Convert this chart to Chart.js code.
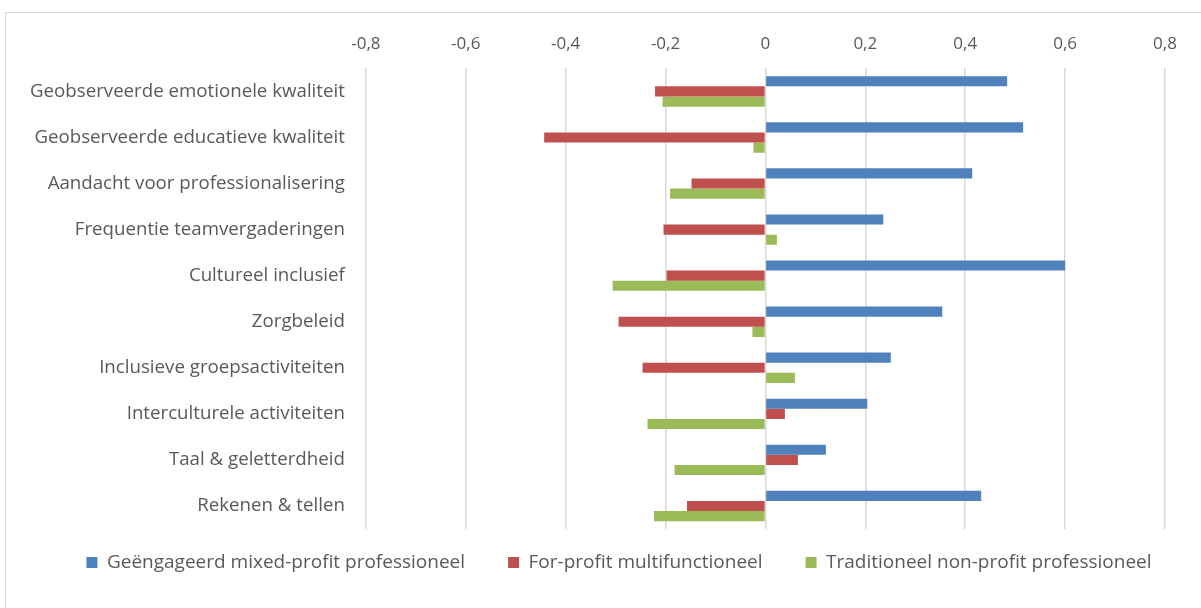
<!DOCTYPE html>
<html>
<head>
<meta charset="utf-8">
<script src="https://cdn.jsdelivr.net/npm/chart.js@4"></script>
<style>
  html, body { margin: 0; padding: 0; background: #fff; }
  #kader { position: absolute; left: 5px; top: 12px; width: 1200px; height: 600px; border: 1px solid #d9d9d9; }
  #houder { position: absolute; left: 0; top: 0; width: 1201px; height: 608px; }
</style>
</head>
<body>
<div id="kader"></div>
<div id="houder"><canvas id="grafico"></canvas></div>
<script>
var categorieen = [
  "Geobserveerde emotionele kwaliteit",
  "Geobserveerde educatieve kwaliteit",
  "Aandacht voor professionalisering",
  "Frequentie teamvergaderingen",
  "Cultureel inclusief",
  "Zorgbeleid",
  "Inclusieve groepsactiviteiten",
  "Interculturele activiteiten",
  "Taal & geletterdheid",
  "Rekenen & tellen"
];

var mixedProfit = [0.484, 0.516, 0.414, 0.236, 0.600, 0.354, 0.251, 0.204, 0.121, 0.432];
var forProfit = [-0.221, -0.443, -0.148, -0.204, -0.198, -0.294, -0.246, 0.039, 0.065, -0.157];
var nonProfit = [-0.206, -0.024, -0.191, 0.023, -0.306, -0.026, 0.059, -0.236, -0.182, -0.223];

var reeksNamen = [
  "Geëngageerd mixed-profit professioneel",
  "For-profit multifunctioneel",
  "Traditioneel non-profit professioneel"
];
var kleuren = ['#4f81bd', '#c0504d', '#9bbb59'];

var tekstKleur = '#595959';
var lettertype = "'Open Sans', sans-serif";

var datos = {
  labels: categorieen,
  datasets: [
    { label: reeksNamen[0], data: mixedProfit, backgroundColor: kleuren[0] },
    { label: reeksNamen[1], data: forProfit, backgroundColor: kleuren[1] },
    { label: reeksNamen[2], data: nonProfit, backgroundColor: kleuren[2] }
  ]
};

// legenda iets naar rechts, zoals in het origineel
var legendaVerschuiven = {
  id: 'legendaVerschuiven',
  afterLayout: function (chart) {
    if (chart.legend) {
      chart.legend.left += 28;
      chart.legend.right += 28;
    }
  }
};

var opciones = {
  indexAxis: 'y',
  responsive: true,
  maintainAspectRatio: false,
  animation: false,
  layout: { padding: { left: 17, right: 36, top: 20, bottom: 26 } },
  datasets: { bar: { barPercentage: 1, categoryPercentage: 0.66 } },
  scales: {
    x: {
      position: 'top',
      min: -0.8,
      max: 0.8,
      ticks: {
        stepSize: 0.2,
        color: tekstKleur,
        font: { family: lettertype, size: 17 },
        padding: 14,
        callback: function (v) {
          var r = Math.round(v * 10) / 10;
          return r === 0 ? '0' : r.toFixed(1).replace('.', ',');
        }
      },
      grid: { color: '#d9d9d9', lineWidth: 1.5, drawTicks: false },
      border: { display: false }
    },
    y: {
      ticks: {
        color: tekstKleur,
        font: { family: lettertype, size: 18.7 },
        padding: 13
      },
      grid: { display: false },
      border: { display: false }
    }
  },
  plugins: {
    legend: {
      position: 'bottom',
      labels: {
        boxWidth: 11,
        boxHeight: 11,
        color: tekstKleur,
        font: { family: lettertype, size: 19 },
        padding: 24,
        generateLabels: function (chart) {
          var items = Chart.defaults.plugins.legend.labels.generateLabels(chart);
          items.forEach(function (it, i) {
            if (i < items.length - 1) it.text = it.text + '\u2002\u2002';
          });
          return items;
        }
      }
    },
    tooltip: { enabled: false }
  }
};

var grafico = new Chart(document.getElementById('grafico'), {
  type: 'bar',
  data: datos,
  options: opciones,
  plugins: [legendaVerschuiven]
});
</script>
</body>
</html>
